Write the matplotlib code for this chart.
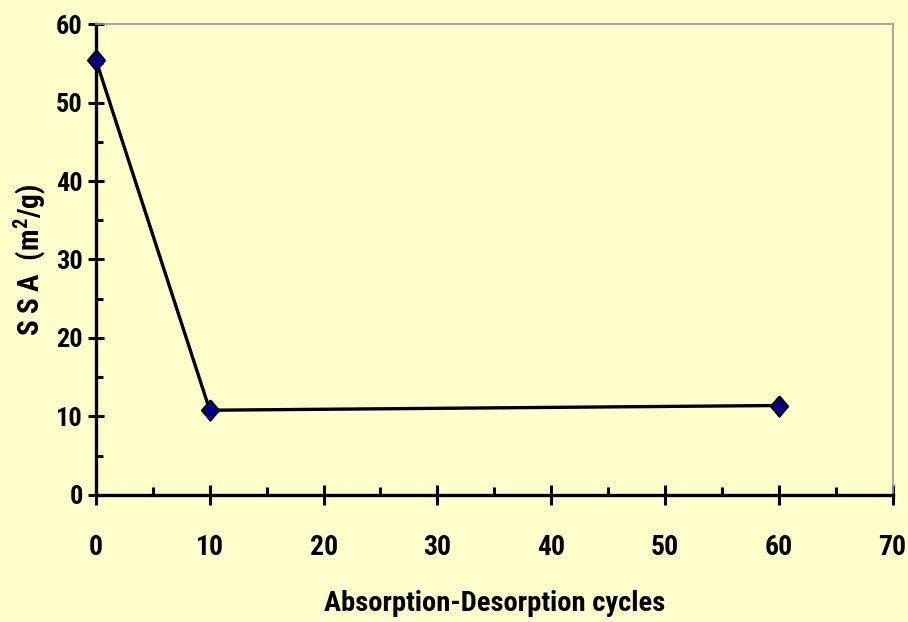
import matplotlib.pyplot as plt
from matplotlib.ticker import MultipleLocator

plt.rcParams['font.family'] = ['Roboto Condensed', 'DejaVu Sans']
plt.rcParams['font.weight'] = 'bold'
plt.rcParams['mathtext.fontset'] = 'custom'
plt.rcParams['mathtext.bf'] = 'Roboto Condensed:bold'
plt.rcParams['mathtext.rm'] = 'Roboto Condensed:bold'

# data
cycles = [0, 10, 60]
ssa = [55.4, 10.8, 11.4]

bg = '#FFFFCC'

fig = plt.figure(figsize=(9.08, 6.22), dpi=100, facecolor=bg)
ax = fig.add_axes([0.1057, 0.2042, 0.8773, 0.7572])
ax.set_facecolor(bg)

diamond = [(0, 1), (0.85, 0), (0, -1), (-0.85, 0), (0, 1)]
ax.plot(cycles, ssa, color='black', lw=2.4, marker=diamond, markersize=15,
        markerfacecolor='#000080', markeredgecolor='black', markeredgewidth=1.2,
        zorder=5, clip_on=False)

ax.set_xlim(0, 70)
ax.set_ylim(0, 60)
ax.xaxis.set_major_locator(MultipleLocator(10))
ax.xaxis.set_minor_locator(MultipleLocator(5))
ax.yaxis.set_major_locator(MultipleLocator(10))
ax.yaxis.set_minor_locator(MultipleLocator(5))

for side in ['left', 'bottom']:
    ax.spines[side].set_linewidth(2.4)
    ax.spines[side].set_color('black')
for side in ['top', 'right']:
    ax.spines[side].set_linewidth(1.2)
    ax.spines[side].set_color('#999999')

ax.tick_params(axis='x', which='major', direction='inout', length=14, width=2.2,
               labelsize=20, pad=21)
ax.tick_params(axis='x', which='minor', direction='in', length=6, width=2.2)
ax.tick_params(axis='y', which='major', direction='inout', length=11, width=2.2,
               labelsize=19, pad=4)
ax.tick_params(axis='y', which='minor', direction='in', length=5, width=2.2)

ax.set_xlabel('Absorption-Desorption cycles', fontsize=20.5, fontweight='bold', labelpad=21)
ax.set_ylabel('S S A  (m$^{\\mathbf{2}}$/g)', fontsize=21, fontweight='bold', labelpad=6)

fig.savefig('out.png', dpi=100, facecolor=bg)
